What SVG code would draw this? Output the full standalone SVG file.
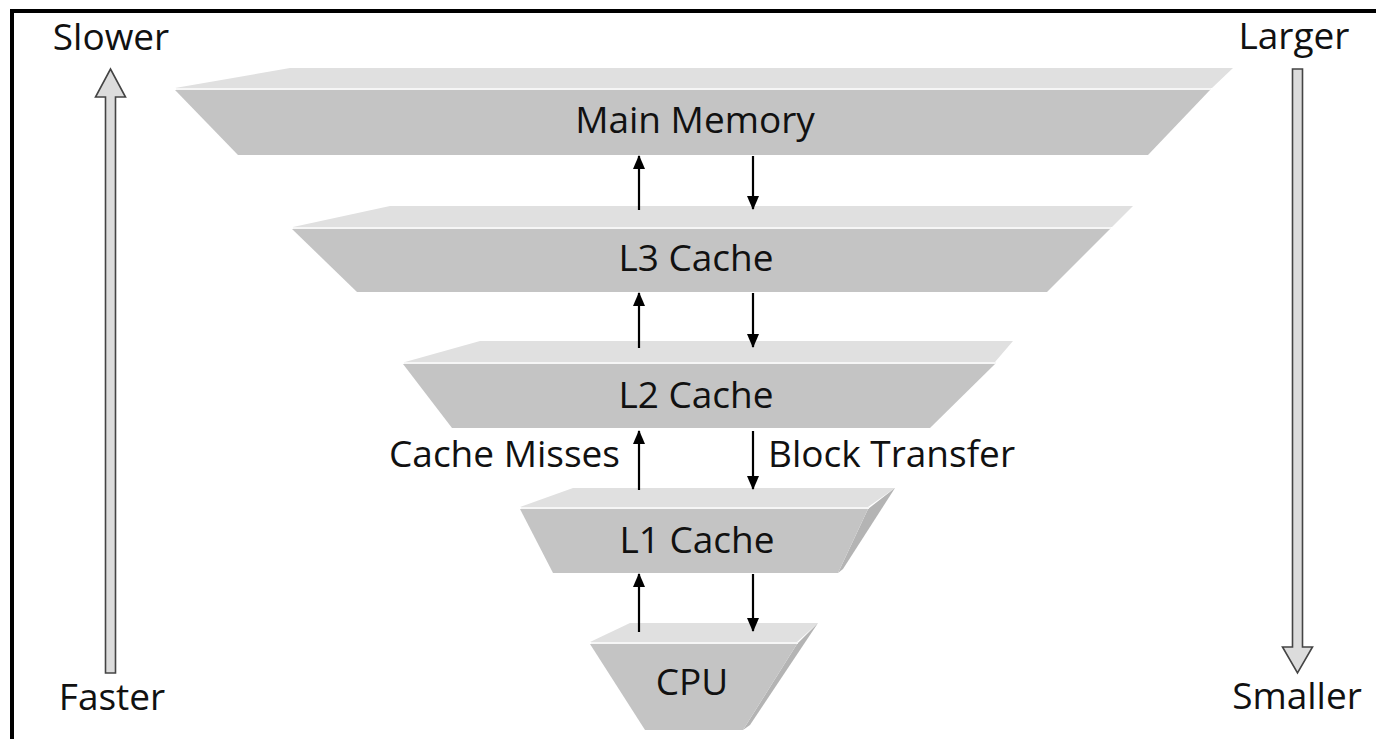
<svg xmlns="http://www.w3.org/2000/svg" width="1376" height="739" viewBox="0 0 1376 739">
  <style>
    .top { fill: #e0e0e0; }
    .front { fill: #c4c4c4; }
    .side { fill: #b4b4b4; }
    .edge { stroke: #f6f6f6; stroke-width: 2; fill: none; }
    .label { font-family: "Open Sans", "Noto Sans", "DejaVu Sans", sans-serif; font-size: 37px; fill: #111; }
    .center { text-anchor: middle; }
    .link { stroke: #000; stroke-width: 2.2; fill: none; }
    .big { fill: #dcdcdc; stroke: #444; stroke-width: 1.6; stroke-linejoin: miter; }
  </style>
  <defs>
    <!-- filled arrowhead pointing along the line direction -->
    <marker id="head" viewBox="0 0 14 12" refX="13" refY="6" markerWidth="14" markerHeight="12" markerUnits="userSpaceOnUse" orient="auto">
      <path d="M0,0 L14,6 L0,12 Z" fill="#000"/>
    </marker>
  </defs>

  <rect width="1376" height="739" fill="#fff"/>
  <!-- outer frame -->
  <path d="M12,739 L12,11 L1376,11" fill="none" stroke="#000" stroke-width="4"/>

  <!-- speed / size axes -->
  <g id="axis-speed">
    <path class="big" d="M105.5,673 L105.5,97 L95.5,97 L110.5,69 L125.5,97 L115.5,97 L115.5,673 Z"/>
    <text class="label center" x="111" y="50">Slower</text>
    <text class="label center" x="112" y="710">Faster</text>
  </g>
  <g id="axis-size">
    <path class="big" d="M1292.5,69 L1302.5,69 L1302.5,647 L1312.5,647 L1297.5,673 L1282.5,647 L1292.5,647 Z"/>
    <text class="label center" x="1294" y="49">Larger</text>
    <text class="label center" x="1297" y="709">Smaller</text>
  </g>

  <!-- memory levels -->
  <g id="main-memory">
    <polygon class="top" points="290,68 1233,68 1212,88 175,88"/>
    <polygon class="front" points="175,90 1210,90 1148,155 238,155"/>
    <line class="edge" x1="176" y1="89" x2="1211" y2="89"/>
    <text class="label center" x="695" y="133" font-size="38">Main Memory</text>
  </g>

  <g id="l3-cache">
    <polygon class="top" points="390,206 1133,206 1112,227 293,227"/>
    <polygon class="front" points="292,229 1110,229 1047,292 357,292"/>
    <line class="edge" x1="293" y1="228" x2="1111" y2="228"/>
    <text class="label center" x="696" y="271">L3 Cache</text>
  </g>

  <g id="l2-cache">
    <polygon class="top" points="480,341 1013,341 995,362 405,362"/>
    <polygon class="front" points="403,364 995,364 930,428 452,428"/>
    <line class="edge" x1="404" y1="363" x2="996" y2="363"/>
    <text class="label center" x="696" y="408">L2 Cache</text>
  </g>

  <g id="l1-cache">
    <polygon class="top" points="573,488 895,488 868,507 520,507"/>
    <polygon class="side" points="868,509 895,488 843,569 838,573"/>
    <polygon class="front" points="520,509 868,509 838,573 553,573"/>
    <line class="edge" x1="521" y1="508" x2="869" y2="508"/>
    <text class="label center" x="697" y="553">L1 Cache</text>
  </g>

  <g id="cpu">
    <polygon class="top" points="630,623 818,623 797,642 590,642"/>
    <polygon class="side" points="797,644 818,623 750,725 743,730"/>
    <polygon class="front" points="590,644 797,644 743,730 645,730"/>
    <line class="edge" x1="591" y1="643" x2="798" y2="643"/>
    <text class="label center" x="692" y="695">CPU</text>
  </g>

  <!-- transfers between levels -->
  <g id="connectors">
    <line class="link" x1="639" y1="210" x2="639" y2="156" marker-end="url(#head)"/>
    <line class="link" x1="753" y1="156" x2="753" y2="209" marker-end="url(#head)"/>
    <line class="link" x1="639" y1="348" x2="639" y2="293" marker-end="url(#head)"/>
    <line class="link" x1="753" y1="293" x2="753" y2="347" marker-end="url(#head)"/>
    <line class="link" x1="639" y1="490" x2="639" y2="431" marker-end="url(#head)"/>
    <line class="link" x1="753" y1="431" x2="753" y2="489" marker-end="url(#head)"/>
    <line class="link" x1="639" y1="632" x2="639" y2="574" marker-end="url(#head)"/>
    <line class="link" x1="753" y1="574" x2="753" y2="631" marker-end="url(#head)"/>
    <text class="label" x="620" y="467" text-anchor="end" font-size="36">Cache Misses</text>
    <text class="label" x="768" y="467" font-size="36">Block Transfer</text>
  </g>
</svg>
